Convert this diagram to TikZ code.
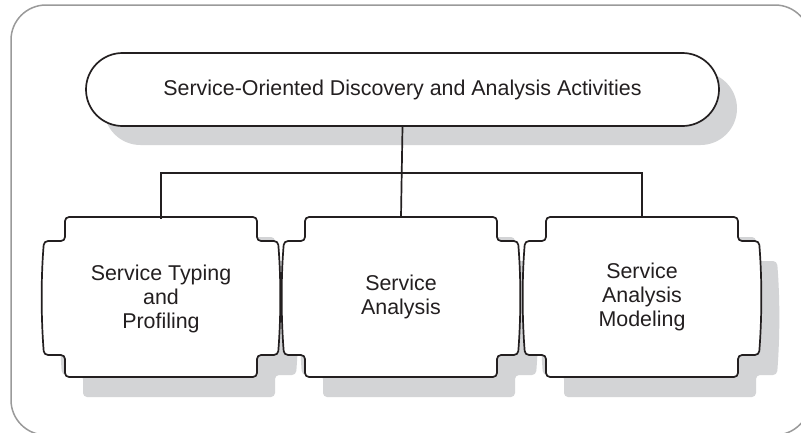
\documentclass[tikz,border=0pt]{standalone}
\usepackage{fontspec}
\setmainfont{Liberation Sans}
\usetikzlibrary{shadows}
\definecolor{framegray}{HTML}{9A9A9A}
\definecolor{shadegray}{HTML}{D3D4D6}
\definecolor{inkcol}{HTML}{231F20}
\tikzset{
  notchbox/.pic={
    \fill[shadegray, rounded corners=4pt, shift={(18,20)}]
      (-96,-80) -- (96,-80) -- (96,-56) -- (117,-56)
      .. controls (120,-20) and (120,20) .. (117,58) -- (96,58) -- (96,80)
      -- (-96,80) -- (-96,58) -- (-117,58)
      .. controls (-120,20) and (-120,-20) .. (-117,-56) -- (-96,-56) -- cycle;
    \draw[inkcol, fill=white, line width=1.7pt, rounded corners=4pt]
      (-96,-80) -- (96,-80) -- (96,-56) -- (117,-56)
      .. controls (120,-20) and (120,20) .. (117,58) -- (96,58) -- (96,80)
      -- (-96,80) -- (-96,58) -- (-117,58)
      .. controls (-120,20) and (-120,-20) .. (-117,-56) -- (-96,-56) -- cycle;
  },
  boxtext/.style={draw=none, text=inkcol, align=center, minimum width=192pt,
    minimum height=160pt, inner sep=0pt, font=\fontsize{21.4}{24}\selectfont},
  pill/.style={draw=inkcol, fill=white, line width=1.7pt, rounded corners=36.5pt,
    minimum width=633pt, minimum height=73pt, inner sep=0pt, text=inkcol,
    font=\fontsize{21.4}{24}\selectfont,
    drop shadow={shadow xshift=18pt, shadow yshift=-19pt, fill=shadegray, opacity=1}},
  conn/.style={draw=inkcol, line width=1.7pt}
}
\begin{document}
\begin{tikzpicture}[x=1pt, y=-1pt]
\useasboundingbox (0,0) rectangle (801,432);
\clip (0,0) rectangle (801,432);
\fill[white] (0,0) rectangle (801,432);
\draw[framegray, line width=1.5pt, rounded corners=35pt] (11,5) rectangle (810,435);
\node[pill] (top) at (402.5,89.5) {Service-Oriented Discovery and Analysis Activities};
\pic at (161,297) {notchbox};
\node[boxtext] (b1) at (161,299) {Service Typing\\and\\Profiling};
\pic at (401,297) {notchbox};
\node[boxtext] (b2) at (401,297) {Service\\Analysis};
\pic at (642,297) {notchbox};
\node[boxtext] (b3) at (642,297) {Service\\Analysis\\Modeling};
\coordinate (hj) at (401,173);
\draw[conn] (top.south) -- (b2.north);
\draw[conn] (b1.north) |- (hj) -| (b3.north);
\end{tikzpicture}
\end{document}
